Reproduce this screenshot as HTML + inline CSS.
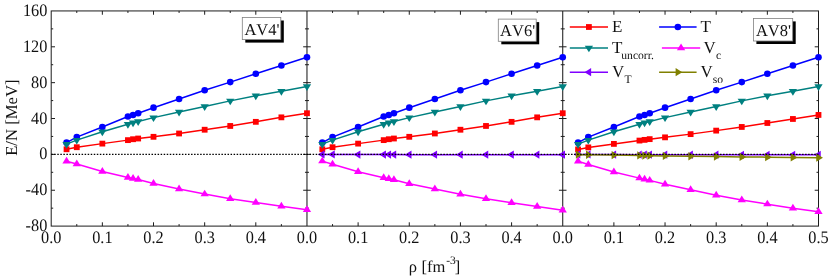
<!DOCTYPE html>
<html><head><meta charset="utf-8"><title>E/N vs rho</title>
<style>html,body{margin:0;padding:0;background:#fff;}body{width:830px;height:277px;overflow:hidden;position:relative;font-family:"Liberation Serif",serif;}</style>
</head><body>
<div id="wrap" style="position:absolute;left:0;top:0;width:830px;height:277px;will-change:transform">
<svg width="830" height="277" viewBox="0 0 830 277" style="position:absolute;left:0;top:0">
<rect x="0" y="0" width="830" height="277" fill="#fff"/>
<g stroke="#1c1c1c" stroke-width="1.0" fill="none"><rect x="51.2" y="10.94" width="767.30" height="215.16"/><line x1="306.97" y1="10.94" x2="306.97" y2="226.1" stroke-width="1.05"/><line x1="562.73" y1="10.94" x2="562.73" y2="226.1" stroke-width="1.05"/><line x1="51.2" y1="208.17" x2="53.2" y2="208.17"/><line x1="818.5" y1="208.17" x2="816.5" y2="208.17"/><line x1="304.97" y1="208.17" x2="308.97" y2="208.17"/><line x1="560.73" y1="208.17" x2="564.73" y2="208.17"/><line x1="51.2" y1="190.24" x2="55.0" y2="190.24"/><line x1="818.5" y1="190.24" x2="814.7" y2="190.24"/><line x1="303.17" y1="190.24" x2="310.77" y2="190.24"/><line x1="558.93" y1="190.24" x2="566.53" y2="190.24"/><line x1="51.2" y1="172.31" x2="53.2" y2="172.31"/><line x1="818.5" y1="172.31" x2="816.5" y2="172.31"/><line x1="304.97" y1="172.31" x2="308.97" y2="172.31"/><line x1="560.73" y1="172.31" x2="564.73" y2="172.31"/><line x1="51.2" y1="154.38" x2="55.0" y2="154.38"/><line x1="818.5" y1="154.38" x2="814.7" y2="154.38"/><line x1="303.17" y1="154.38" x2="310.77" y2="154.38"/><line x1="558.93" y1="154.38" x2="566.53" y2="154.38"/><line x1="51.2" y1="136.45" x2="53.2" y2="136.45"/><line x1="818.5" y1="136.45" x2="816.5" y2="136.45"/><line x1="304.97" y1="136.45" x2="308.97" y2="136.45"/><line x1="560.73" y1="136.45" x2="564.73" y2="136.45"/><line x1="51.2" y1="118.52" x2="55.0" y2="118.52"/><line x1="818.5" y1="118.52" x2="814.7" y2="118.52"/><line x1="303.17" y1="118.52" x2="310.77" y2="118.52"/><line x1="558.93" y1="118.52" x2="566.53" y2="118.52"/><line x1="51.2" y1="100.59" x2="53.2" y2="100.59"/><line x1="818.5" y1="100.59" x2="816.5" y2="100.59"/><line x1="304.97" y1="100.59" x2="308.97" y2="100.59"/><line x1="560.73" y1="100.59" x2="564.73" y2="100.59"/><line x1="51.2" y1="82.66" x2="55.0" y2="82.66"/><line x1="818.5" y1="82.66" x2="814.7" y2="82.66"/><line x1="303.17" y1="82.66" x2="310.77" y2="82.66"/><line x1="558.93" y1="82.66" x2="566.53" y2="82.66"/><line x1="51.2" y1="64.73" x2="53.2" y2="64.73"/><line x1="818.5" y1="64.73" x2="816.5" y2="64.73"/><line x1="304.97" y1="64.73" x2="308.97" y2="64.73"/><line x1="560.73" y1="64.73" x2="564.73" y2="64.73"/><line x1="51.2" y1="46.80" x2="55.0" y2="46.80"/><line x1="818.5" y1="46.80" x2="814.7" y2="46.80"/><line x1="303.17" y1="46.80" x2="310.77" y2="46.80"/><line x1="558.93" y1="46.80" x2="566.53" y2="46.80"/><line x1="51.2" y1="28.87" x2="53.2" y2="28.87"/><line x1="818.5" y1="28.87" x2="816.5" y2="28.87"/><line x1="304.97" y1="28.87" x2="308.97" y2="28.87"/><line x1="560.73" y1="28.87" x2="564.73" y2="28.87"/><line x1="76.78" y1="226.1" x2="76.78" y2="224.1"/><line x1="76.78" y1="10.94" x2="76.78" y2="12.94"/><line x1="102.35" y1="226.1" x2="102.35" y2="222.29999999999998"/><line x1="102.35" y1="10.94" x2="102.35" y2="14.739999999999998"/><line x1="127.93" y1="226.1" x2="127.93" y2="224.1"/><line x1="127.93" y1="10.94" x2="127.93" y2="12.94"/><line x1="153.51" y1="226.1" x2="153.51" y2="222.29999999999998"/><line x1="153.51" y1="10.94" x2="153.51" y2="14.739999999999998"/><line x1="179.08" y1="226.1" x2="179.08" y2="224.1"/><line x1="179.08" y1="10.94" x2="179.08" y2="12.94"/><line x1="204.66" y1="226.1" x2="204.66" y2="222.29999999999998"/><line x1="204.66" y1="10.94" x2="204.66" y2="14.739999999999998"/><line x1="230.24" y1="226.1" x2="230.24" y2="224.1"/><line x1="230.24" y1="10.94" x2="230.24" y2="12.94"/><line x1="255.81" y1="226.1" x2="255.81" y2="222.29999999999998"/><line x1="255.81" y1="10.94" x2="255.81" y2="14.739999999999998"/><line x1="281.39" y1="226.1" x2="281.39" y2="224.1"/><line x1="281.39" y1="10.94" x2="281.39" y2="12.94"/><line x1="332.54" y1="226.1" x2="332.54" y2="224.1"/><line x1="332.54" y1="10.94" x2="332.54" y2="12.94"/><line x1="358.12" y1="226.1" x2="358.12" y2="222.29999999999998"/><line x1="358.12" y1="10.94" x2="358.12" y2="14.739999999999998"/><line x1="383.70" y1="226.1" x2="383.70" y2="224.1"/><line x1="383.70" y1="10.94" x2="383.70" y2="12.94"/><line x1="409.27" y1="226.1" x2="409.27" y2="222.29999999999998"/><line x1="409.27" y1="10.94" x2="409.27" y2="14.739999999999998"/><line x1="434.85" y1="226.1" x2="434.85" y2="224.1"/><line x1="434.85" y1="10.94" x2="434.85" y2="12.94"/><line x1="460.43" y1="226.1" x2="460.43" y2="222.29999999999998"/><line x1="460.43" y1="10.94" x2="460.43" y2="14.739999999999998"/><line x1="486.00" y1="226.1" x2="486.00" y2="224.1"/><line x1="486.00" y1="10.94" x2="486.00" y2="12.94"/><line x1="511.58" y1="226.1" x2="511.58" y2="222.29999999999998"/><line x1="511.58" y1="10.94" x2="511.58" y2="14.739999999999998"/><line x1="537.16" y1="226.1" x2="537.16" y2="224.1"/><line x1="537.16" y1="10.94" x2="537.16" y2="12.94"/><line x1="588.31" y1="226.1" x2="588.31" y2="224.1"/><line x1="588.31" y1="10.94" x2="588.31" y2="12.94"/><line x1="613.89" y1="226.1" x2="613.89" y2="222.29999999999998"/><line x1="613.89" y1="10.94" x2="613.89" y2="14.739999999999998"/><line x1="639.46" y1="226.1" x2="639.46" y2="224.1"/><line x1="639.46" y1="10.94" x2="639.46" y2="12.94"/><line x1="665.04" y1="226.1" x2="665.04" y2="222.29999999999998"/><line x1="665.04" y1="10.94" x2="665.04" y2="14.739999999999998"/><line x1="690.62" y1="226.1" x2="690.62" y2="224.1"/><line x1="690.62" y1="10.94" x2="690.62" y2="12.94"/><line x1="716.19" y1="226.1" x2="716.19" y2="222.29999999999998"/><line x1="716.19" y1="10.94" x2="716.19" y2="14.739999999999998"/><line x1="741.77" y1="226.1" x2="741.77" y2="224.1"/><line x1="741.77" y1="10.94" x2="741.77" y2="12.94"/><line x1="767.35" y1="226.1" x2="767.35" y2="222.29999999999998"/><line x1="767.35" y1="10.94" x2="767.35" y2="14.739999999999998"/><line x1="792.92" y1="226.1" x2="792.92" y2="224.1"/><line x1="792.92" y1="10.94" x2="792.92" y2="12.94"/></g>
<polyline fill="none" stroke="#ff0000" stroke-width="1.5" points="66.55,149.27 76.78,147.21 102.35,143.62 127.93,140.13 133.05,139.23 138.16,138.51 153.51,136.81 179.08,133.49 204.66,129.73 230.24,125.96 255.81,121.84 281.39,117.35 306.97,113.23"/><rect x="63.65" y="146.37" width="5.8" height="5.8" fill="#ff0000"/><rect x="73.88" y="144.31" width="5.8" height="5.8" fill="#ff0000"/><rect x="99.45" y="140.72" width="5.8" height="5.8" fill="#ff0000"/><rect x="125.03" y="137.23" width="5.8" height="5.8" fill="#ff0000"/><rect x="130.15" y="136.33" width="5.8" height="5.8" fill="#ff0000"/><rect x="135.26" y="135.61" width="5.8" height="5.8" fill="#ff0000"/><rect x="150.61" y="133.91" width="5.8" height="5.8" fill="#ff0000"/><rect x="176.18" y="130.59" width="5.8" height="5.8" fill="#ff0000"/><rect x="201.76" y="126.83" width="5.8" height="5.8" fill="#ff0000"/><rect x="227.34" y="123.06" width="5.8" height="5.8" fill="#ff0000"/><rect x="252.91" y="118.94" width="5.8" height="5.8" fill="#ff0000"/><rect x="278.49" y="114.45" width="5.8" height="5.8" fill="#ff0000"/><rect x="304.07" y="110.33" width="5.8" height="5.8" fill="#ff0000"/>
<polyline fill="none" stroke="#0000ff" stroke-width="1.5" points="66.55,142.64 76.78,137.08 102.35,126.95 127.93,116.55 133.05,115.02 138.16,113.23 153.51,107.67 179.08,99.07 204.66,90.28 230.24,82.12 255.81,73.78 281.39,65.45 306.97,57.29"/><circle cx="66.55" cy="142.64" r="3.3" fill="#0000ff"/><circle cx="76.78" cy="137.08" r="3.3" fill="#0000ff"/><circle cx="102.35" cy="126.95" r="3.3" fill="#0000ff"/><circle cx="127.93" cy="116.55" r="3.3" fill="#0000ff"/><circle cx="133.05" cy="115.02" r="3.3" fill="#0000ff"/><circle cx="138.16" cy="113.23" r="3.3" fill="#0000ff"/><circle cx="153.51" cy="107.67" r="3.3" fill="#0000ff"/><circle cx="179.08" cy="99.07" r="3.3" fill="#0000ff"/><circle cx="204.66" cy="90.28" r="3.3" fill="#0000ff"/><circle cx="230.24" cy="82.12" r="3.3" fill="#0000ff"/><circle cx="255.81" cy="73.78" r="3.3" fill="#0000ff"/><circle cx="281.39" cy="65.45" r="3.3" fill="#0000ff"/><circle cx="306.97" cy="57.29" r="3.3" fill="#0000ff"/>
<polyline fill="none" stroke="#008080" stroke-width="1.5" points="66.55,144.16 76.78,140.13 102.35,131.79 127.93,124.17 133.05,122.82 138.16,121.57 153.51,117.62 179.08,112.07 204.66,106.42 230.24,100.86 255.81,95.84 281.39,91.36 306.97,86.51"/><polygon points="62.40,141.93 70.70,141.93 66.55,148.63" fill="#008080"/><polygon points="72.63,137.89 80.93,137.89 76.78,144.59" fill="#008080"/><polygon points="98.20,129.55 106.50,129.55 102.35,136.25" fill="#008080"/><polygon points="123.78,121.93 132.08,121.93 127.93,128.63" fill="#008080"/><polygon points="128.90,120.59 137.20,120.59 133.05,127.29" fill="#008080"/><polygon points="134.01,119.33 142.31,119.33 138.16,126.03" fill="#008080"/><polygon points="149.36,115.39 157.66,115.39 153.51,122.09" fill="#008080"/><polygon points="174.93,109.83 183.23,109.83 179.08,116.53" fill="#008080"/><polygon points="200.51,104.18 208.81,104.18 204.66,110.88" fill="#008080"/><polygon points="226.09,98.63 234.39,98.63 230.24,105.33" fill="#008080"/><polygon points="251.66,93.61 259.96,93.61 255.81,100.31" fill="#008080"/><polygon points="277.24,89.12 285.54,89.12 281.39,95.82" fill="#008080"/><polygon points="302.82,84.28 311.12,84.28 306.97,90.98" fill="#008080"/>
<polyline fill="none" stroke="#ff00ff" stroke-width="1.5" points="66.55,161.28 76.78,163.97 102.35,171.41 127.93,177.42 133.05,178.41 138.16,179.57 153.51,183.43 179.08,188.90 204.66,194.09 230.24,198.67 255.81,202.52 281.39,206.20 306.97,209.69"/><polygon points="62.40,163.52 70.70,163.52 66.55,156.82" fill="#ff00ff"/><polygon points="72.63,166.21 80.93,166.21 76.78,159.51" fill="#ff00ff"/><polygon points="98.20,173.65 106.50,173.65 102.35,166.95" fill="#ff00ff"/><polygon points="123.78,179.65 132.08,179.65 127.93,172.95" fill="#ff00ff"/><polygon points="128.90,180.64 137.20,180.64 133.05,173.94" fill="#ff00ff"/><polygon points="134.01,181.80 142.31,181.80 138.16,175.10" fill="#ff00ff"/><polygon points="149.36,185.66 157.66,185.66 153.51,178.96" fill="#ff00ff"/><polygon points="174.93,191.13 183.23,191.13 179.08,184.43" fill="#ff00ff"/><polygon points="200.51,196.33 208.81,196.33 204.66,189.63" fill="#ff00ff"/><polygon points="226.09,200.90 234.39,200.90 230.24,194.20" fill="#ff00ff"/><polygon points="251.66,204.76 259.96,204.76 255.81,198.06" fill="#ff00ff"/><polygon points="277.24,208.43 285.54,208.43 281.39,201.73" fill="#ff00ff"/><polygon points="302.82,211.93 311.12,211.93 306.97,205.23" fill="#ff00ff"/>
<polyline fill="none" stroke="#ff0000" stroke-width="1.5" points="322.31,149.27 332.54,147.21 358.12,143.62 383.70,140.13 388.81,139.23 393.93,138.51 409.27,136.81 434.85,133.49 460.43,129.73 486.00,125.96 511.58,121.84 537.16,117.35 562.73,113.23"/><rect x="319.41" y="146.37" width="5.8" height="5.8" fill="#ff0000"/><rect x="329.64" y="144.31" width="5.8" height="5.8" fill="#ff0000"/><rect x="355.22" y="140.72" width="5.8" height="5.8" fill="#ff0000"/><rect x="380.80" y="137.23" width="5.8" height="5.8" fill="#ff0000"/><rect x="385.91" y="136.33" width="5.8" height="5.8" fill="#ff0000"/><rect x="391.03" y="135.61" width="5.8" height="5.8" fill="#ff0000"/><rect x="406.37" y="133.91" width="5.8" height="5.8" fill="#ff0000"/><rect x="431.95" y="130.59" width="5.8" height="5.8" fill="#ff0000"/><rect x="457.53" y="126.83" width="5.8" height="5.8" fill="#ff0000"/><rect x="483.10" y="123.06" width="5.8" height="5.8" fill="#ff0000"/><rect x="508.68" y="118.94" width="5.8" height="5.8" fill="#ff0000"/><rect x="534.26" y="114.45" width="5.8" height="5.8" fill="#ff0000"/><rect x="559.83" y="110.33" width="5.8" height="5.8" fill="#ff0000"/>
<polyline fill="none" stroke="#0000ff" stroke-width="1.5" points="322.31,142.64 332.54,137.08 358.12,126.95 383.70,116.55 388.81,115.02 393.93,113.23 409.27,107.67 434.85,99.07 460.43,90.28 486.00,82.12 511.58,73.78 537.16,65.45 562.73,57.29"/><circle cx="322.31" cy="142.64" r="3.3" fill="#0000ff"/><circle cx="332.54" cy="137.08" r="3.3" fill="#0000ff"/><circle cx="358.12" cy="126.95" r="3.3" fill="#0000ff"/><circle cx="383.70" cy="116.55" r="3.3" fill="#0000ff"/><circle cx="388.81" cy="115.02" r="3.3" fill="#0000ff"/><circle cx="393.93" cy="113.23" r="3.3" fill="#0000ff"/><circle cx="409.27" cy="107.67" r="3.3" fill="#0000ff"/><circle cx="434.85" cy="99.07" r="3.3" fill="#0000ff"/><circle cx="460.43" cy="90.28" r="3.3" fill="#0000ff"/><circle cx="486.00" cy="82.12" r="3.3" fill="#0000ff"/><circle cx="511.58" cy="73.78" r="3.3" fill="#0000ff"/><circle cx="537.16" cy="65.45" r="3.3" fill="#0000ff"/><circle cx="562.73" cy="57.29" r="3.3" fill="#0000ff"/>
<polyline fill="none" stroke="#008080" stroke-width="1.5" points="322.31,144.16 332.54,140.13 358.12,131.79 383.70,124.17 388.81,122.82 393.93,121.57 409.27,117.62 434.85,112.07 460.43,106.42 486.00,100.86 511.58,95.84 537.16,91.36 562.73,86.51"/><polygon points="318.16,141.93 326.46,141.93 322.31,148.63" fill="#008080"/><polygon points="328.39,137.89 336.69,137.89 332.54,144.59" fill="#008080"/><polygon points="353.97,129.55 362.27,129.55 358.12,136.25" fill="#008080"/><polygon points="379.55,121.93 387.85,121.93 383.70,128.63" fill="#008080"/><polygon points="384.66,120.59 392.96,120.59 388.81,127.29" fill="#008080"/><polygon points="389.78,119.33 398.08,119.33 393.93,126.03" fill="#008080"/><polygon points="405.12,115.39 413.42,115.39 409.27,122.09" fill="#008080"/><polygon points="430.70,109.83 439.00,109.83 434.85,116.53" fill="#008080"/><polygon points="456.28,104.18 464.58,104.18 460.43,110.88" fill="#008080"/><polygon points="481.85,98.63 490.15,98.63 486.00,105.33" fill="#008080"/><polygon points="507.43,93.61 515.73,93.61 511.58,100.31" fill="#008080"/><polygon points="533.01,89.12 541.31,89.12 537.16,95.82" fill="#008080"/><polygon points="558.58,84.28 566.88,84.28 562.73,90.98" fill="#008080"/>
<polyline fill="none" stroke="#ff00ff" stroke-width="1.5" points="322.31,161.10 332.54,164.24 358.12,171.68 383.70,177.69 388.81,178.76 393.93,179.84 409.27,183.70 434.85,188.98 460.43,194.18 486.00,198.76 511.58,202.79 537.16,206.56 562.73,210.14"/><polygon points="318.16,163.34 326.46,163.34 322.31,156.64" fill="#ff00ff"/><polygon points="328.39,166.47 336.69,166.47 332.54,159.77" fill="#ff00ff"/><polygon points="353.97,173.92 362.27,173.92 358.12,167.22" fill="#ff00ff"/><polygon points="379.55,179.92 387.85,179.92 383.70,173.22" fill="#ff00ff"/><polygon points="384.66,181.00 392.96,181.00 388.81,174.30" fill="#ff00ff"/><polygon points="389.78,182.07 398.08,182.07 393.93,175.37" fill="#ff00ff"/><polygon points="405.12,185.93 413.42,185.93 409.27,179.23" fill="#ff00ff"/><polygon points="430.70,191.22 439.00,191.22 434.85,184.52" fill="#ff00ff"/><polygon points="456.28,196.42 464.58,196.42 460.43,189.72" fill="#ff00ff"/><polygon points="481.85,200.99 490.15,200.99 486.00,194.29" fill="#ff00ff"/><polygon points="507.43,205.02 515.73,205.02 511.58,198.32" fill="#ff00ff"/><polygon points="533.01,208.79 541.31,208.79 537.16,202.09" fill="#ff00ff"/><polygon points="558.58,212.38 566.88,212.38 562.73,205.68" fill="#ff00ff"/>
<polyline fill="none" stroke="#8000ff" stroke-width="1.5" points="322.31,154.47 332.54,154.47 358.12,154.56 383.70,154.56 388.81,154.56 393.93,154.56 409.27,154.65 434.85,154.65 460.43,154.65 486.00,154.65 511.58,154.65 537.16,154.65 562.73,154.65"/><polygon points="324.55,150.32 324.55,158.62 317.85,154.47" fill="#8000ff"/><polygon points="334.78,150.32 334.78,158.62 328.08,154.47" fill="#8000ff"/><polygon points="360.35,150.41 360.35,158.71 353.65,154.56" fill="#8000ff"/><polygon points="385.93,150.41 385.93,158.71 379.23,154.56" fill="#8000ff"/><polygon points="391.05,150.41 391.05,158.71 384.35,154.56" fill="#8000ff"/><polygon points="396.16,150.41 396.16,158.71 389.46,154.56" fill="#8000ff"/><polygon points="411.51,150.50 411.51,158.80 404.81,154.65" fill="#8000ff"/><polygon points="437.08,150.50 437.08,158.80 430.38,154.65" fill="#8000ff"/><polygon points="462.66,150.50 462.66,158.80 455.96,154.65" fill="#8000ff"/><polygon points="488.24,150.50 488.24,158.80 481.54,154.65" fill="#8000ff"/><polygon points="513.81,150.50 513.81,158.80 507.11,154.65" fill="#8000ff"/><polygon points="539.39,150.50 539.39,158.80 532.69,154.65" fill="#8000ff"/><polygon points="564.97,150.50 564.97,158.80 558.27,154.65" fill="#8000ff"/>
<polyline fill="none" stroke="#ff0000" stroke-width="1.5" points="578.08,149.45 588.31,147.39 613.89,143.89 639.46,140.57 644.58,139.86 649.69,139.14 665.04,137.35 690.62,134.12 716.19,130.62 741.77,126.95 767.35,123.00 792.92,118.97 818.50,114.93"/><rect x="575.18" y="146.55" width="5.8" height="5.8" fill="#ff0000"/><rect x="585.41" y="144.49" width="5.8" height="5.8" fill="#ff0000"/><rect x="610.99" y="140.99" width="5.8" height="5.8" fill="#ff0000"/><rect x="636.56" y="137.67" width="5.8" height="5.8" fill="#ff0000"/><rect x="641.68" y="136.96" width="5.8" height="5.8" fill="#ff0000"/><rect x="646.79" y="136.24" width="5.8" height="5.8" fill="#ff0000"/><rect x="662.14" y="134.45" width="5.8" height="5.8" fill="#ff0000"/><rect x="687.72" y="131.22" width="5.8" height="5.8" fill="#ff0000"/><rect x="713.29" y="127.72" width="5.8" height="5.8" fill="#ff0000"/><rect x="738.87" y="124.05" width="5.8" height="5.8" fill="#ff0000"/><rect x="764.45" y="120.10" width="5.8" height="5.8" fill="#ff0000"/><rect x="790.02" y="116.07" width="5.8" height="5.8" fill="#ff0000"/><rect x="815.60" y="112.03" width="5.8" height="5.8" fill="#ff0000"/>
<polyline fill="none" stroke="#0000ff" stroke-width="1.5" points="578.08,142.64 588.31,137.08 613.89,126.95 639.46,116.55 644.58,115.02 649.69,113.23 665.04,107.67 690.62,99.07 716.19,90.28 741.77,82.12 767.35,73.78 792.92,65.45 818.50,57.29"/><circle cx="578.08" cy="142.64" r="3.3" fill="#0000ff"/><circle cx="588.31" cy="137.08" r="3.3" fill="#0000ff"/><circle cx="613.89" cy="126.95" r="3.3" fill="#0000ff"/><circle cx="639.46" cy="116.55" r="3.3" fill="#0000ff"/><circle cx="644.58" cy="115.02" r="3.3" fill="#0000ff"/><circle cx="649.69" cy="113.23" r="3.3" fill="#0000ff"/><circle cx="665.04" cy="107.67" r="3.3" fill="#0000ff"/><circle cx="690.62" cy="99.07" r="3.3" fill="#0000ff"/><circle cx="716.19" cy="90.28" r="3.3" fill="#0000ff"/><circle cx="741.77" cy="82.12" r="3.3" fill="#0000ff"/><circle cx="767.35" cy="73.78" r="3.3" fill="#0000ff"/><circle cx="792.92" cy="65.45" r="3.3" fill="#0000ff"/><circle cx="818.50" cy="57.29" r="3.3" fill="#0000ff"/>
<polyline fill="none" stroke="#008080" stroke-width="1.5" points="578.08,144.16 588.31,140.13 613.89,131.79 639.46,124.17 644.58,122.82 649.69,121.57 665.04,117.62 690.62,112.07 716.19,106.42 741.77,100.86 767.35,95.84 792.92,91.36 818.50,86.51"/><polygon points="573.93,141.93 582.23,141.93 578.08,148.63" fill="#008080"/><polygon points="584.16,137.89 592.46,137.89 588.31,144.59" fill="#008080"/><polygon points="609.74,129.55 618.04,129.55 613.89,136.25" fill="#008080"/><polygon points="635.31,121.93 643.61,121.93 639.46,128.63" fill="#008080"/><polygon points="640.43,120.59 648.73,120.59 644.58,127.29" fill="#008080"/><polygon points="645.54,119.33 653.84,119.33 649.69,126.03" fill="#008080"/><polygon points="660.89,115.39 669.19,115.39 665.04,122.09" fill="#008080"/><polygon points="686.47,109.83 694.77,109.83 690.62,116.53" fill="#008080"/><polygon points="712.04,104.18 720.34,104.18 716.19,110.88" fill="#008080"/><polygon points="737.62,98.63 745.92,98.63 741.77,105.33" fill="#008080"/><polygon points="763.20,93.61 771.50,93.61 767.35,100.31" fill="#008080"/><polygon points="788.77,89.12 797.07,89.12 792.92,95.82" fill="#008080"/><polygon points="814.35,84.28 822.65,84.28 818.50,90.98" fill="#008080"/>
<polyline fill="none" stroke="#ff00ff" stroke-width="1.5" points="578.08,161.28 588.31,164.42 613.89,172.04 639.46,178.14 644.58,179.21 649.69,180.38 665.04,184.23 690.62,189.79 716.19,195.17 741.77,199.92 767.35,204.14 792.92,208.17 818.50,211.76"/><polygon points="573.93,163.52 582.23,163.52 578.08,156.82" fill="#ff00ff"/><polygon points="584.16,166.65 592.46,166.65 588.31,159.95" fill="#ff00ff"/><polygon points="609.74,174.27 618.04,174.27 613.89,167.57" fill="#ff00ff"/><polygon points="635.31,180.37 643.61,180.37 639.46,173.67" fill="#ff00ff"/><polygon points="640.43,181.45 648.73,181.45 644.58,174.75" fill="#ff00ff"/><polygon points="645.54,182.61 653.84,182.61 649.69,175.91" fill="#ff00ff"/><polygon points="660.89,186.47 669.19,186.47 665.04,179.77" fill="#ff00ff"/><polygon points="686.47,192.03 694.77,192.03 690.62,185.33" fill="#ff00ff"/><polygon points="712.04,197.40 720.34,197.40 716.19,190.70" fill="#ff00ff"/><polygon points="737.62,202.16 745.92,202.16 741.77,195.46" fill="#ff00ff"/><polygon points="763.20,206.37 771.50,206.37 767.35,199.67" fill="#ff00ff"/><polygon points="788.77,210.40 797.07,210.40 792.92,203.70" fill="#ff00ff"/><polygon points="814.35,213.99 822.65,213.99 818.50,207.29" fill="#ff00ff"/>
<polyline fill="none" stroke="#8000ff" stroke-width="1.5" points="578.08,154.47 588.31,154.47 613.89,154.56 639.46,154.65 644.58,154.65 649.69,154.65 665.04,154.65 690.62,154.74 716.19,154.74 741.77,154.83 767.35,154.83 792.92,154.83 818.50,154.83"/><polygon points="580.31,150.32 580.31,158.62 573.61,154.47" fill="#8000ff"/><polygon points="590.54,150.32 590.54,158.62 583.84,154.47" fill="#8000ff"/><polygon points="616.12,150.41 616.12,158.71 609.42,154.56" fill="#8000ff"/><polygon points="641.70,150.50 641.70,158.80 635.00,154.65" fill="#8000ff"/><polygon points="646.81,150.50 646.81,158.80 640.11,154.65" fill="#8000ff"/><polygon points="651.93,150.50 651.93,158.80 645.23,154.65" fill="#8000ff"/><polygon points="667.27,150.50 667.27,158.80 660.57,154.65" fill="#8000ff"/><polygon points="692.85,150.59 692.85,158.89 686.15,154.74" fill="#8000ff"/><polygon points="718.43,150.59 718.43,158.89 711.73,154.74" fill="#8000ff"/><polygon points="744.00,150.68 744.00,158.98 737.30,154.83" fill="#8000ff"/><polygon points="769.58,150.68 769.58,158.98 762.88,154.83" fill="#8000ff"/><polygon points="795.16,150.68 795.16,158.98 788.46,154.83" fill="#8000ff"/><polygon points="820.73,150.68 820.73,158.98 814.03,154.83" fill="#8000ff"/>
<polyline fill="none" stroke="#808000" stroke-width="1.5" points="578.08,154.65 588.31,154.74 613.89,155.10 639.46,155.46 644.58,155.55 649.69,155.64 665.04,155.90 690.62,156.26 716.19,156.62 741.77,156.89 767.35,157.16 792.92,157.43 818.50,157.70"/><polygon points="575.85,150.50 575.85,158.80 582.55,154.65" fill="#808000"/><polygon points="586.08,150.59 586.08,158.89 592.78,154.74" fill="#808000"/><polygon points="611.65,150.95 611.65,159.25 618.35,155.10" fill="#808000"/><polygon points="637.23,151.31 637.23,159.61 643.93,155.46" fill="#808000"/><polygon points="642.35,151.40 642.35,159.70 649.05,155.55" fill="#808000"/><polygon points="647.46,151.49 647.46,159.79 654.16,155.64" fill="#808000"/><polygon points="662.81,151.75 662.81,160.05 669.51,155.90" fill="#808000"/><polygon points="688.38,152.11 688.38,160.41 695.08,156.26" fill="#808000"/><polygon points="713.96,152.47 713.96,160.77 720.66,156.62" fill="#808000"/><polygon points="739.54,152.74 739.54,161.04 746.24,156.89" fill="#808000"/><polygon points="765.11,153.01 765.11,161.31 771.81,157.16" fill="#808000"/><polygon points="790.69,153.28 790.69,161.58 797.39,157.43" fill="#808000"/><polygon points="816.27,153.55 816.27,161.85 822.97,157.70" fill="#808000"/>
<line x1="51.2" y1="154.30" x2="818.5" y2="154.30" stroke="#000" stroke-width="1.3" stroke-dasharray="1.5 1.54"/>
<line x1="569.8" y1="27.0" x2="608" y2="27.0" stroke="#ff0000" stroke-width="1.5"/><rect x="586.00" y="24.10" width="5.8" height="5.8" fill="#ff0000"/>
<line x1="659.1" y1="27.0" x2="696.6" y2="27.0" stroke="#0000ff" stroke-width="1.5"/><circle cx="677.85" cy="27.00" r="3.3" fill="#0000ff"/>
<line x1="569.8" y1="47.9" x2="608" y2="47.9" stroke="#008080" stroke-width="1.5"/><polygon points="584.75,45.67 593.05,45.67 588.90,52.37" fill="#008080"/>
<line x1="661.9" y1="47.9" x2="700.2" y2="47.9" stroke="#ff00ff" stroke-width="1.5"/><polygon points="676.90,50.13 685.20,50.13 681.05,43.43" fill="#ff00ff"/>
<line x1="569.8" y1="72.15" x2="608" y2="72.15" stroke="#8000ff" stroke-width="1.5"/><polygon points="591.13,68.00 591.13,76.30 584.43,72.15" fill="#8000ff"/>
<line x1="659.1" y1="72.15" x2="696.6" y2="72.15" stroke="#808000" stroke-width="1.5"/><polygon points="675.62,68.00 675.62,76.30 682.32,72.15" fill="#808000"/>
<rect x="245.3" y="20.5" width="38.5" height="22.1" fill="#000"/><rect x="242.3" y="17.5" width="38.5" height="22.1" fill="#fff" stroke="#808080" stroke-width="0.8"/>
<rect x="501.3" y="22.1" width="37.900000000000034" height="22.199999999999996" fill="#000"/><rect x="498.3" y="19.1" width="37.900000000000034" height="22.199999999999996" fill="#fff" stroke="#808080" stroke-width="0.8"/>
<rect x="756.4" y="21.4" width="39.30000000000007" height="22.6" fill="#000"/><rect x="753.4" y="18.4" width="39.30000000000007" height="22.6" fill="#fff" stroke="#808080" stroke-width="0.8"/>
<g font-family="'Liberation Serif', serif" fill="#111" style="text-rendering:geometricPrecision">
<text transform="translate(47.3,231.15) scale(1,1.075)" font-size="16.3" text-anchor="end">-80</text>
<text transform="translate(47.3,195.29) scale(1,1.075)" font-size="16.3" text-anchor="end">-40</text>
<text transform="translate(47.3,159.43) scale(1,1.075)" font-size="16.3" text-anchor="end">0</text>
<text transform="translate(47.3,123.57) scale(1,1.075)" font-size="16.3" text-anchor="end">40</text>
<text transform="translate(47.3,87.71) scale(1,1.075)" font-size="16.3" text-anchor="end">80</text>
<text transform="translate(47.3,51.85) scale(1,1.075)" font-size="16.3" text-anchor="end">120</text>
<text transform="translate(47.3,15.99) scale(1,1.075)" font-size="16.3" text-anchor="end">160</text>
<text transform="translate(51.20,242.9) scale(1,1.075)" font-size="16.3" text-anchor="middle">0.0</text>
<text transform="translate(102.35,242.9) scale(1,1.075)" font-size="16.3" text-anchor="middle">0.1</text>
<text transform="translate(153.51,242.9) scale(1,1.075)" font-size="16.3" text-anchor="middle">0.2</text>
<text transform="translate(204.66,242.9) scale(1,1.075)" font-size="16.3" text-anchor="middle">0.3</text>
<text transform="translate(255.81,242.9) scale(1,1.075)" font-size="16.3" text-anchor="middle">0.4</text>
<text transform="translate(306.97,242.9) scale(1,1.075)" font-size="16.3" text-anchor="middle">0.0</text>
<text transform="translate(358.12,242.9) scale(1,1.075)" font-size="16.3" text-anchor="middle">0.1</text>
<text transform="translate(409.27,242.9) scale(1,1.075)" font-size="16.3" text-anchor="middle">0.2</text>
<text transform="translate(460.43,242.9) scale(1,1.075)" font-size="16.3" text-anchor="middle">0.3</text>
<text transform="translate(511.58,242.9) scale(1,1.075)" font-size="16.3" text-anchor="middle">0.4</text>
<text transform="translate(562.73,242.9) scale(1,1.075)" font-size="16.3" text-anchor="middle">0.0</text>
<text transform="translate(613.89,242.9) scale(1,1.075)" font-size="16.3" text-anchor="middle">0.1</text>
<text transform="translate(665.04,242.9) scale(1,1.075)" font-size="16.3" text-anchor="middle">0.2</text>
<text transform="translate(716.19,242.9) scale(1,1.075)" font-size="16.3" text-anchor="middle">0.3</text>
<text transform="translate(767.35,242.9) scale(1,1.075)" font-size="16.3" text-anchor="middle">0.4</text>
<text transform="translate(818.50,242.9) scale(1,1.075)" font-size="16.3" text-anchor="middle">0.5</text>
<text x="261.95" y="34.60" font-size="16.5" text-anchor="middle" style="font-kerning:none">AV4'</text>
<text x="517.65" y="36.20" font-size="16.5" text-anchor="middle" style="font-kerning:none">AV6'</text>
<text x="773.45" y="35.70" font-size="16.5" text-anchor="middle" style="font-kerning:none">AV8'</text>
<text x="612.00" y="32.30" font-size="17" text-anchor="start" >E</text>
<text x="700.40" y="32.30" font-size="17" text-anchor="start" >T</text>
<text x="612.00" y="52.80" font-size="17" text-anchor="start" >T<tspan font-size="11.6" dy="6.0" dx="-1.1">uncorr.</tspan></text>
<text x="703.60" y="52.80" font-size="17" text-anchor="start" >V<tspan font-size="11.6" dy="6.2" dx="0.1">c</tspan></text>
<text x="612.00" y="76.90" font-size="17" text-anchor="start" >V<tspan font-size="11.6" dy="6.2" dx="0.1">T</tspan></text>
<text x="700.40" y="76.90" font-size="17" text-anchor="start" >V<tspan font-size="11.6" dy="6.2" dx="0.1">so</tspan></text>
<text x="434.50" y="272.00" font-size="16.5" text-anchor="middle" >ρ <tspan dx="0.6">[fm</tspan><tspan font-size="11.5" dy="-8.2" dx="0.7">-3</tspan><tspan dy="8.2" dx="-0.9">]</tspan></text>
<text transform="translate(17.1,117.6) rotate(-90)" font-size="16.7" text-anchor="middle">E/N [MeV]</text>
</g>
</svg>
</div>
</body></html>
